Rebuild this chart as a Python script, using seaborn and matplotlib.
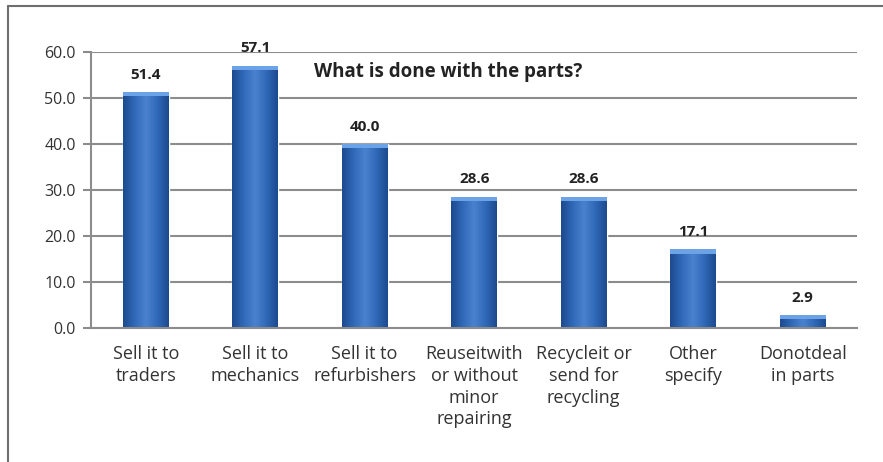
import matplotlib
matplotlib.use("Agg")
import matplotlib.pyplot as plt
import numpy as np
import pandas as pd
import seaborn as sns
from matplotlib.colors import LinearSegmentedColormap
from matplotlib.patches import Rectangle

categories = [
    "Sell it to\ntraders",
    "Sell it to\nmechanics",
    "Sell it to\nrefurbishers",
    "Reuseitwith\nor without\nminor\nrepairing",
    "Recycleit or\nsend for\nrecycling",
    "Other\nspecify",
    "Donotdeal\nin parts",
]
values = [51.4, 57.1, 40.0, 28.6, 28.6, 17.1, 2.9]
title = "What is done with the parts?"

df = pd.DataFrame({"category": categories, "value": values})

sns.set_style("white")
plt.rcParams["font.family"] = ["Open Sans", "DejaVu Sans"]

fig = plt.figure(figsize=(8.83, 4.62), dpi=100)
ax = fig.add_axes([0.103, 0.29, 0.868, 0.597])

sns.barplot(data=df, x="category", y="value", color="#2f62b0", width=0.42,
            saturation=1, ax=ax, zorder=3)

# cylinder-like shading on each bar
shade = LinearSegmentedColormap.from_list(
    "shade", ["#1d4a8f", "#3069b8", "#4a82cf", "#3069b8", "#1d4a8f"])
grad = np.linspace(0, 1, 64).reshape(1, -1)
for bar in list(ax.patches):
    x0, w, h = bar.get_x(), bar.get_width(), bar.get_height()
    im = ax.imshow(grad, cmap=shade, aspect="auto", extent=(x0, x0 + w, 0, h),
                   zorder=4)
    im.set_clip_path(bar)
    cap = Rectangle((x0, h - 0.9), w, 0.9, color="#6ba3e6", zorder=5, lw=0)
    ax.add_patch(cap)
    ax.text(x0 + w / 2, h + 2.2, f"{h:.1f}", ha="center", va="bottom",
            fontsize=11, fontweight="bold", color="#222222", zorder=6)

ax.set_xlim(-0.5, len(categories) - 0.5)
ax.set_ylim(0, 60)
ax.set_yticks(np.arange(0, 61, 10))
ax.set_yticklabels([f"{v:.1f}" for v in np.arange(0, 61, 10)], fontsize=11.5,
                   color="#333333")
ax.yaxis.grid(True, color="#8c8c8c", lw=1.5, zorder=0)
ax.set_axisbelow(True)

ax.set_xticks(range(len(categories)))
ax.set_xticklabels(categories, fontsize=13, color="#333333", linespacing=1.28)
ax.set_xticks(np.arange(-0.5, len(categories)), minor=True)
ax.tick_params(axis="x", which="major", length=0, pad=12)
ax.tick_params(axis="x", which="minor", length=5, width=1.5, color="#8c8c8c",
               direction="out")
ax.tick_params(axis="y", length=6, width=1.5, color="#8c8c8c", direction="out",
               left=True, pad=5)
ax.set_xlabel("")
ax.set_ylabel("")

for side in ["top", "right"]:
    ax.spines[side].set_visible(False)
for side in ["left", "bottom"]:
    ax.spines[side].set_color("#8c8c8c")
    ax.spines[side].set_linewidth(1.5)
ax.spines["bottom"].set_zorder(6)

ax.text(2.76, 55.6, title, ha="center", va="center", fontsize=13.5,
        fontweight="bold", color="#222222", zorder=7)

# outer frame (top and left edges)
fig.add_artist(plt.Line2D([8 / 883, 1], [1 - 6 / 462] * 2, color="#6e6e6e", lw=1.5))
fig.add_artist(plt.Line2D([8 / 883] * 2, [0, 1 - 6 / 462], color="#6e6e6e", lw=1.5))

fig.savefig("out.png", dpi=100)
